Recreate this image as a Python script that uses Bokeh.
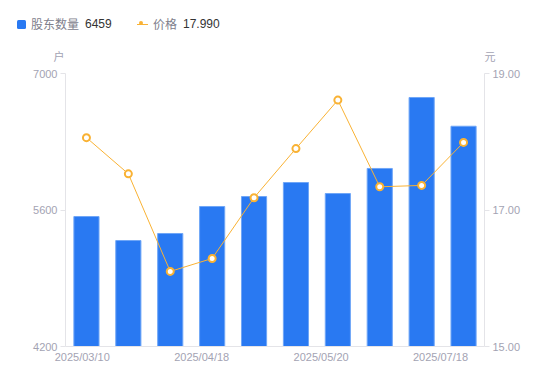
from bokeh.plotting import figure
from bokeh.layouts import column
from bokeh.models import Range1d, LinearAxis, FixedTicker, ColumnDataSource, Div
from bokeh.embed import file_html
from bokeh.resources import INLINE
import numpy as np

dates = ["2025/03/10", "2025/03/21", "2025/03/31", "2025/04/18", "2025/04/30",
         "2025/05/09", "2025/05/20", "2025/06/10", "2025/06/30", "2025/07/18"]
holders = [5533, 5287, 5359, 5636, 5738, 5882, 5769, 6026, 6754, 6459]
prices = [18.06, 17.53, 16.10, 16.29, 17.18, 17.90, 18.61, 17.34, 17.36, 17.99]
x_tick_labels = ["2025/03/10", "2025/04/18", "2025/05/20", "2025/07/18"]
left_ticks = [4200, 5600, 7000]
right_ticks = [15.0, 17.0, 19.0]
series_names = ["股东数量", "价格"]
units = ["户", "元"]

BLUE = "#2979F2"
ORANGE = "#F9B234"
AXIS = "#E4E4E8"
TICKTXT = "#A3A3B3"
LEGTXT = "#80808C"
VALTXT = "#333333"
FONT = "Noto Sans CJK SC"
NUMFONT = "Liberation Sans"

W = 542
HEAD_H = 66

# ---------------- header (legend + unit labels) as HTML ----------------
def txt(left, top, s, color, font, size, align="left"):
    tr = "transform:translateX(-50%);" if align == "center" else ""
    return (f'<span style="position:absolute;left:{left}px;top:{top}px;'
            f'line-height:{size}px;font-size:{size}px;font-family:\'{font}\';'
            f'color:{color};white-space:nowrap;{tr}">{s}</span>')

head_html = (
    f'<div style="position:relative;width:{W}px;height:{HEAD_H}px;margin:0;padding:0;">'
    f'<span style="position:absolute;left:17px;top:20px;width:9px;height:9px;'
    f'background:{BLUE};border-radius:1.5px;"></span>'
    + txt(31, 18, series_names[0], LEGTXT, FONT, 12)
    + txt(85, 18, str(holders[-1]), VALTXT, NUMFONT, 12)
    + f'<span style="position:absolute;left:137px;top:23.5px;width:11px;height:1.5px;'
      f'background:{ORANGE};"></span>'
    + f'<span style="position:absolute;left:139px;top:20.5px;width:4px;height:4px;'
      f'border:2px solid {ORANGE};border-radius:50%;background:white;"></span>'
    + txt(153, 18, series_names[1], LEGTXT, FONT, 12)
    + txt(183, 18, f"{prices[-1]:.3f}", VALTXT, NUMFONT, 12)
    + txt(59, 51, units[0], TICKTXT, FONT, 11, "center")
    + txt(490, 51, units[1], TICKTXT, FONT, 11, "center")
    + '</div>'
)
head = Div(text=head_html, width=W, height=HEAD_H, margin=(0, 0, 0, 0))

# ---------------- main chart ----------------
idx = np.arange(len(dates))
src = ColumnDataSource(dict(x=idx, holders=holders, prices=prices))

p = figure(width=W, height=307, output_backend="svg", toolbar_location=None,
           x_range=Range1d(-0.5, len(dates) - 0.5),
           y_range=Range1d(left_ticks[0], left_ticks[-1]),
           min_border_left=65, min_border_right=58, min_border_top=7,
           min_border_bottom=27, outline_line_color=None, margin=(0, 0, 0, 0))
p.extra_y_ranges = {"price": Range1d(right_ticks[0], right_ticks[-1])}
p.xgrid.visible = False
p.ygrid.visible = False

p.vbar(x="x", top="holders", bottom=left_ticks[0], width=0.6, source=src,
       fill_color=BLUE, line_color="#6FA6F7", line_width=1)
p.line(x="x", y="prices", source=src, y_range_name="price",
       line_color=ORANGE, line_width=1)
p.scatter(x="x", y="prices", source=src, y_range_name="price", size=7,
          fill_color="white", line_color=ORANGE, line_width=2)

def style(ax):
    ax.axis_line_color = AXIS
    ax.major_tick_line_color = AXIS
    ax.minor_tick_line_color = None
    ax.major_label_text_color = TICKTXT
    ax.major_label_text_font = NUMFONT
    ax.major_label_text_font_size = "11px"

xa = p.xaxis[0]
style(xa)
xa.major_tick_line_color = None
xa.major_tick_out = 0
xa.major_tick_in = 0
xtick_pos = [float(v) for v in np.linspace(-0.1, 8.45, len(x_tick_labels))]
xa.ticker = FixedTicker(ticks=xtick_pos)
xa.major_label_overrides = {t: l for t, l in zip(xtick_pos, x_tick_labels)}
xa.major_label_standoff = 4

ya = p.yaxis[0]
style(ya)
ya.ticker = FixedTicker(ticks=left_ticks)
ya.major_tick_out = 5
ya.major_tick_in = 0
ya.major_label_standoff = 3

ra = LinearAxis(y_range_name="price", ticker=FixedTicker(ticks=right_ticks))
style(ra)
ra.major_tick_out = 5
ra.major_tick_in = 0
ra.major_label_standoff = 3
ra.major_label_overrides = {t: f"{t:.2f}" for t in right_ticks}
p.add_layout(ra, "right")

layout = column(head, p, spacing=0)
open("out.html", "w").write(file_html(layout, INLINE))
